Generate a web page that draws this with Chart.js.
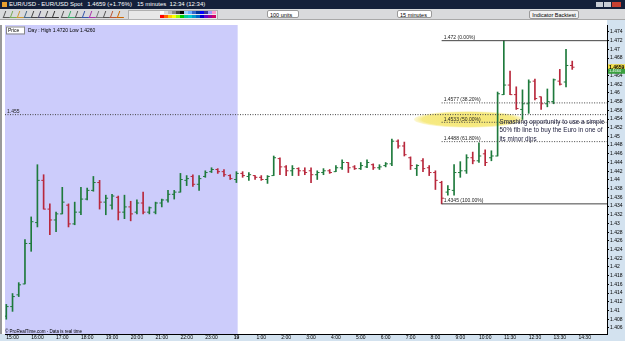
<!DOCTYPE html>
<html><head><meta charset="utf-8">
<script src="https://cdn.jsdelivr.net/npm/chart.js@4/dist/chart.umd.min.js"></script>
<style>
html,body{margin:0;padding:0;background:#fff;width:625px;height:341px;overflow:hidden;font-family:Arial,"Liberation Sans",sans-serif;}
#titlebar{position:absolute;left:0;top:0;width:625px;height:9px;background:#14203a;color:#fff;font-size:6px;line-height:9px;white-space:pre;}
#titlebar span{position:absolute;top:0}
#toolbar{position:absolute;left:0;top:9px;width:625px;height:11px;background:#d9dadc;border-bottom:1px solid #a8a8a8;box-sizing:border-box;}
.dd{position:absolute;top:1px;height:8px;background:#fff;border:1px solid #9a9a9a;border-radius:2px;font-size:5.5px;line-height:8px;padding-left:2px;box-sizing:border-box;color:#000}
.btn{position:absolute;top:1px;height:9px;background:#f1f1f1;border:1px solid #9a9a9a;border-radius:2px;font-size:5.5px;line-height:8px;text-align:center;box-sizing:border-box;color:#000}
.ico{position:absolute;top:2px;width:6px;height:6px;}
.sw{position:absolute;width:4px;height:3px;}
#wrap{position:absolute;left:0;top:20px;width:625px;height:321px;}
</style></head>
<body>
<div id="titlebar"><span style="left:2px;width:5px;height:5px;top:2px;background:#e8a030"></span><span style="left:9px">EUR/USD - EUR/USD Spot   1.4659 (+1.76%)   15 minutes  12:34 (12:34)</span>
<span style="left:596px;top:2px;width:7px;height:5px;background:#c8ccd4"></span><span style="left:604px;top:2px;width:7px;height:5px;background:#c8ccd4"></span><span style="left:612px;top:2px;width:9px;height:5px;background:#c84030"></span></div>
<div id="toolbar"></div>
<div id="wrap"><canvas id="c" width="625" height="321"></canvas></div>
<script>
// ---------- DATA ----------
const barIndex = Array.from({length: 92}, (_, i) => i);
const highs = [1.4114,1.4139,1.4164,1.4263,1.4315,1.4435,1.4412,1.4345,1.4326,1.4383,
1.4345,1.4349,1.4383,1.4381,1.4408,1.4399,1.4365,1.4367,1.4363,1.4365,
1.4351,1.4354,1.4372,1.4338,1.4349,1.4356,1.4376,1.4376,1.4415,1.4410,
1.4412,1.4410,1.4421,1.4428,1.4426,1.4424,1.4412,1.4419,1.4419,1.4417,
1.4410,1.4410,1.4410,1.4455,1.4451,1.4433,1.4433,1.4428,1.4428,1.4428,
1.4421,1.4426,1.4424,1.4433,1.4446,1.4440,1.4433,1.4440,1.4446,1.4437,
1.4435,1.4440,1.4494,1.4492,1.4487,1.4453,1.4435,1.4449,1.4433,1.4421,
1.4397,1.4387,1.4435,1.4442,1.4458,1.4464,1.4485,1.4469,1.4467,1.4602,
1.4720,1.4650,1.4614,1.4607,1.4630,1.4632,1.4591,1.4609,1.4632,1.4654,
1.4700,1.4673];
const lows = [1.4080,1.4098,1.4132,1.4161,1.4236,1.4292,1.4333,1.4274,1.4281,1.4322,
1.4292,1.4297,1.4320,1.4354,1.4374,1.4333,1.4320,1.4333,1.4308,1.4311,
1.4306,1.4322,1.4322,1.4322,1.4322,1.4338,1.4349,1.4356,1.4372,1.4387,
1.4385,1.4376,1.4406,1.4417,1.4415,1.4408,1.4401,1.4394,1.4406,1.4399,
1.4401,1.4399,1.4392,1.4410,1.4412,1.4410,1.4410,1.4410,1.4412,1.4394,
1.4401,1.4412,1.4415,1.4419,1.4424,1.4417,1.4424,1.4424,1.4428,1.4424,
1.4424,1.4430,1.4433,1.4473,1.4455,1.4424,1.4410,1.4419,1.4410,1.4378,
1.4345,1.4365,1.4365,1.4406,1.4415,1.4437,1.4440,1.4433,1.4444,1.4455,
1.4596,1.4596,1.4562,1.4539,1.4553,1.4584,1.4562,1.4568,1.4575,1.4618,
1.4614,1.4654];
const opens = [1.4087,1.4109,1.4136,1.4161,1.4254,1.4302,1.4399,1.4333,1.4308,1.4322,
1.4342,1.4299,1.4326,1.4356,1.4376,1.4394,1.4349,1.4342,1.4360,1.4326,
1.4338,1.4326,1.4347,1.4326,1.4326,1.4347,1.4354,1.4367,1.4372,1.4399,
1.4408,1.4390,1.4408,1.4419,1.4424,1.4419,1.4410,1.4401,1.4415,1.4408,
1.4410,1.4406,1.4401,1.4410,1.4449,1.4430,1.4421,1.4426,1.4421,1.4421,
1.4412,1.4417,1.4421,1.4419,1.4428,1.4440,1.4430,1.4426,1.4430,1.4435,
1.4428,1.4433,1.4437,1.4489,1.4478,1.4451,1.4426,1.4444,1.4428,1.4417,
1.4394,1.4372,1.4376,1.4417,1.4421,1.4451,1.4444,1.4460,1.4451,1.4455,
1.4596,1.4618,1.4596,1.4562,1.4575,1.4627,1.4591,1.4575,1.4580,1.4627,
1.4625,1.4663];
const closes = [1.4109,1.4132,1.4159,1.4254,1.4304,1.4399,1.4333,1.4308,1.4322,1.4349,
1.4299,1.4326,1.4356,1.4376,1.4394,1.4349,1.4358,1.4363,1.4326,1.4338,
1.4322,1.4347,1.4326,1.4336,1.4347,1.4354,1.4367,1.4372,1.4401,1.4403,
1.4390,1.4403,1.4417,1.4424,1.4419,1.4412,1.4403,1.4415,1.4410,1.4412,
1.4406,1.4401,1.4408,1.4451,1.4430,1.4421,1.4426,1.4421,1.4417,1.4412,
1.4417,1.4421,1.4417,1.4428,1.4440,1.4428,1.4426,1.4433,1.4440,1.4428,
1.4430,1.4437,1.4489,1.4478,1.4458,1.4433,1.4433,1.4426,1.4417,1.4399,
1.4358,1.4378,1.4417,1.4421,1.4451,1.4444,1.4455,1.4440,1.4455,1.4598,
1.4618,1.4596,1.4564,1.4575,1.4625,1.4587,1.4575,1.4580,1.4630,1.4620,
1.4663,1.4659];
const yTickValues = [1.406,1.408,1.41,1.412,1.414,1.416,1.418,1.42,1.422,1.424,1.426,1.428,1.43,1.432,1.434,1.436,1.438,1.44,1.442,1.444,1.446,1.448,1.45,1.452,1.454,1.456,1.458,1.46,1.462,1.464,1.466,1.468,1.47,1.472,1.474];
const xTickBars = [1,5,9,13,17,21,25,29,33,37,41,45,49,53,57,61,65,69,73,77,81,85,89,93];
const xTickLabels = ['15:00','16:00','17:00','18:00','19:00','20:00','21:00','22:00','23:00','19','1:00','2:00','3:00','4:00','5:00','6:00','7:00','8:00','9:00','10:00','11:30','12:30','13:30','14:30'];
const supportLevel = 1.455;
const fibLevels = [1.472, 1.4577, 1.45325, 1.4488, 1.4345];
const fibLabels = ['1.472 (0.00%)','1.4577 (38.20%)','1.4533 (50.00%)','1.4488 (61.80%)','1.4345 (100.00%)'];
const fibStartBar = 70;
const lastPrice = 1.4659, askPrice = 1.4660;
const noteLines = ['Smashing opportunity to use a simple','50% fib line to buy the Euro in one of','its minor dips'];

// ---------- toolbar (decorative) ----------
(function(){
  const tb = document.getElementById('toolbar');
  let h = '';
  const icoCols = ['#555','#7a5','#c93','#468','#444','#446','#444','#333','#555','#3a6','#555','#35a','#a3a','#777','#555','#b53','#c60'];
  const icoX = [4,11,18,25,32,39,46,53,62,69,76,83,90,97,104,111,118];
  icoX.forEach((x,k)=>{ h += `<div class="ico" style="left:${x}px;border-left:1px solid ${icoCols[k]};border-bottom:1px solid ${icoCols[k]};transform:skewX(-20deg)"></div>`; });
  h += '<div style="position:absolute;left:128px;top:1px;width:88px;height:8px;border:1px solid #b0b0b0;background:#e8e8e8"></div>';
  const sw1 = ['#fff','#ddd','#bbb','#888','#444','#000','#9cf','#6af','#36c','#039','#00f','#339','#99f','#f9c'];
  const sw2 = ['#f00','#f60','#fc0','#ff0','#9f0','#0c0','#0c9','#0cc','#09c','#06c','#00c','#60c','#909','#c06'];
  sw1.forEach((c,k)=>{ h += `<div class="sw" style="left:${160+k*4}px;top:2px;background:${c}"></div>`; });
  sw2.forEach((c,k)=>{ h += `<div class="sw" style="left:${160+k*4}px;top:6px;background:${c}"></div>`; });
  h += '<div class="dd" style="left:267px;width:32px">100 units</div>';
  h += '<div class="dd" style="left:397px;width:35px">15 minutes</div>';
  h += '<div class="btn" style="left:529px;width:50px">Indicator Backtest</div>';
  tb.innerHTML = h;
})();

// ---------- chart ----------
const GREEN = '#1e7a3c', RED = '#b8283c';
const colors = barIndex.map(i => closes[i] >= opens[i] ? GREEN : RED);
const xMin = -0.21, xMax = 96.59;

const decorPlugin = {
  id: 'decor',
  beforeDraw(chart){
    const {ctx, chartArea: a, width, height} = chart;
    ctx.save();
    ctx.fillStyle = '#fff'; ctx.fillRect(0,0,width,height);
    ctx.fillStyle = '#d3e2ef';
    ctx.fillRect(a.right, 0, width - a.right, height);
    ctx.fillRect(0, a.bottom, width, height - a.bottom);
    ctx.restore();
  },
  beforeDatasetsDraw(chart){
    const {ctx, chartArea: a, scales:{x, y}} = chart;
    ctx.save();
    const xs = x.getPixelForValue(37.2);
    ctx.fillStyle = '#ccccfb';
    ctx.fillRect(a.left, a.top, xs - a.left, a.bottom - a.top);
    ctx.fillStyle = '#9a9a9a';
    ctx.fillRect(0, a.top, 2, a.bottom - a.top);
    const cx = x.getPixelForValue(74.35), cy = y.getPixelForValue(1.4539);
    const rx = x.getPixelForValue(74.35 + 8.8) - cx;
    const ry = y.getPixelForValue(1.4539 - 0.0019) - cy;
    const g = ctx.createRadialGradient(0,0,0,0,0,1);
    ctx.translate(cx, cy); ctx.scale(rx, ry);
    g.addColorStop(0, 'rgba(245,230,115,1)');
    g.addColorStop(0.85, 'rgba(246,233,125,0.95)');
    g.addColorStop(1, 'rgba(250,242,180,0.55)');
    ctx.fillStyle = g;
    ctx.beginPath(); ctx.arc(0,0,1,0,Math.PI*2); ctx.fill();
    ctx.restore();
  },
  afterDatasetsDraw(chart){
    const {ctx, chartArea: a, scales:{x, y}} = chart;
    ctx.save();
    ctx.font = '5px Arial';
    ctx.fillStyle = '#222';
    ctx.textBaseline = 'bottom';
    ctx.fillText('1.455', a.left + 2, y.getPixelForValue(supportLevel) - 0.5);
    const fx = x.getPixelForValue(fibStartBar) + 2;
    fibLevels.forEach((lv, k) => ctx.fillText(fibLabels[k], fx, y.getPixelForValue(lv) - 0.5));
    ctx.font = '6.3px Arial';
    ctx.fillStyle = '#1a1a3a';
    ctx.textBaseline = 'middle';
    const nx = x.getPixelForValue(79.3);
    const ny = y.getPixelForValue(1.4533);
    noteLines.forEach((t, k) => ctx.fillText(t, nx, ny + k * 8.5));
    ctx.fillStyle = '#fff'; ctx.strokeStyle = '#888';
    ctx.fillRect(a.left + 1, a.top + 1.5, 18, 7); ctx.strokeRect(a.left + 1.5, a.top + 2, 18, 7);
    ctx.fillStyle = '#000'; ctx.font = '5px Arial';
    ctx.fillText('Price', a.left + 3, a.top + 5.5);
    ctx.fillText('Day : High 1.4720 Low 1.4260', a.left + 23, a.top + 5.5);
    ctx.font = '4.5px Arial';
    ctx.fillText('\u00A9 ProRealTime.com - Data is real time', a.left, a.bottom - 2.5);
    const py = y.getPixelForValue(lastPrice), qy = y.getPixelForValue(askPrice) + 4;
    ctx.fillStyle = '#f4e04a'; ctx.fillRect(a.right + 1, py - 3, 17, 6);
    ctx.fillStyle = '#3aa040'; ctx.fillRect(a.right + 1, qy - 2, 17, 5);
    ctx.fillStyle = '#000'; ctx.font = 'bold 5px Arial';
    ctx.fillText(lastPrice.toFixed(4), a.right + 2, py);
    ctx.fillStyle = '#fff'; ctx.font = '4px Arial';
    ctx.fillText(askPrice.toFixed(4), a.right + 2, qy + 0.5);
    ctx.restore();
  }
};

const lineDs = (lv, x0, dash, color) => ({
  type: 'line', data: [{x: x0, y: lv}, {x: xMax, y: lv}],
  borderColor: color, borderWidth: 1, borderDash: dash, pointRadius: 0, fill: false, order: 0
});

const datasets = [
  { type: 'bar', data: barIndex.map(i => ({x: i, y: [lows[i], highs[i]]})),
    backgroundColor: colors, borderWidth: 0, barThickness: 1, grouped: false, order: 1 },
  { type: 'scatter', data: barIndex.map(i => ({x: i, y: opens[i]})),
    pointStyle: 'dash', pointRotation: 180, pointRadius: 2.3, pointBorderColor: colors, pointBorderWidth: 1, order: 1 },
  { type: 'scatter', data: barIndex.map(i => ({x: i, y: closes[i]})),
    pointStyle: 'dash', pointRotation: 0, pointRadius: 2.3, pointBorderColor: colors, pointBorderWidth: 1, order: 1 },
  lineDs(supportLevel, xMin, [1, 1.5], '#444'),
  ...fibLevels.map((lv, k) => lineDs(lv, fibStartBar, (k === 0 || k === 4) ? [] : [1, 1.5], '#444'))
];

new Chart(document.getElementById('c'), {
  type: 'bar',
  data: { datasets },
  options: {
    animation: false, responsive: false, devicePixelRatio: 1,
    layout: { padding: { left: 2, top: 0, right: 0, bottom: 0 } },
    plugins: { legend: { display: false }, tooltip: { enabled: false } },
    scales: {
      x: {
        type: 'linear', min: xMin, max: xMax, offset: false,
        grid: { drawOnChartArea: false, drawTicks: false },
        border: { display: true, color: '#000' },
        afterBuildTicks: s => { s.ticks = xTickBars.map(v => ({ value: v })); },
        afterFit: s => { s.height = 7; },
        ticks: {
          autoSkip: false, maxRotation: 0, padding: 1, color: '#000',
          font: c => ({ size: 5, family: 'Arial', weight: (c.tick && xTickLabels[c.index] === '19') ? 'bold' : 'normal' }),
          callback: (v, i) => xTickLabels[i]
        }
      },
      y: {
        position: 'right', min: 1.4046, max: 1.4756,
        grid: { drawOnChartArea: false, tickLength: 2, tickColor: '#000' },
        border: { display: true, color: '#000' },
        afterBuildTicks: s => { s.ticks = yTickValues.map(v => ({ value: v })); },
        afterFit: s => { s.width = 18; },
        ticks: {
          autoSkip: false, padding: 1, color: '#000',
          font: { size: 5, family: 'Arial' },
          callback: v => String(Number(v.toFixed(3)))
        }
      }
    }
  },
  plugins: [decorPlugin]
});
</script>
</body></html>
